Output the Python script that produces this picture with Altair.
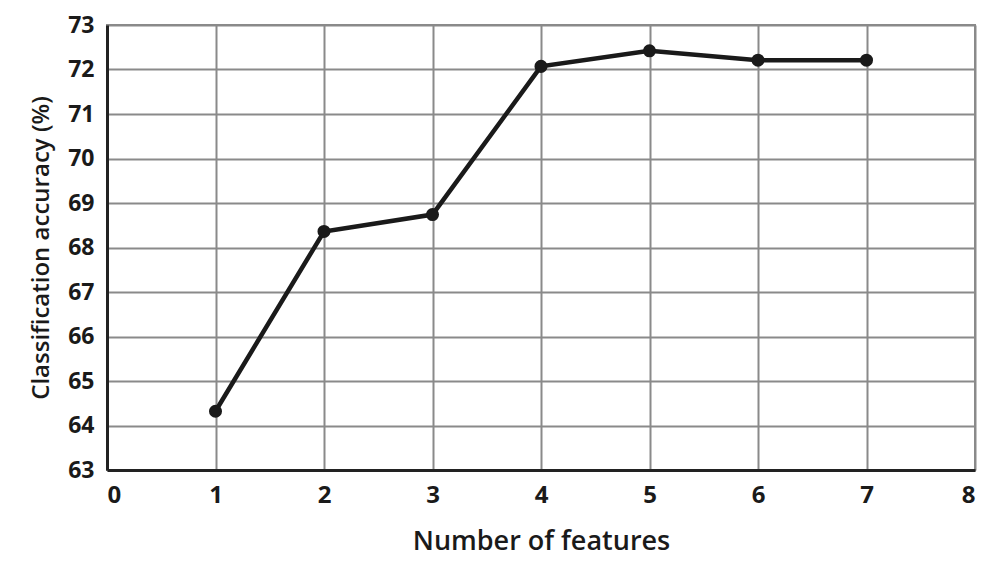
import altair as alt
import pandas as pd

features = [1, 2, 3, 4, 5, 6, 7]
accuracy = [64.32, 68.36, 68.74, 72.07, 72.42, 72.21, 72.21]

df = pd.DataFrame({"features": features, "accuracy": accuracy})

FONT = "Open Sans"

x = alt.X("features:Q", title="Number of features",
          scale=alt.Scale(domain=[0, 8], nice=False),
          axis=alt.Axis(values=list(range(0, 9)), labelFontSize=24, labelFontWeight="bold",
                        labelFont=FONT, labelColor="#1a1a1a", labelPadding=13,
                        titleFont=FONT, titleFontSize=27, titleFontWeight=600,
                        titleColor="#1a1a1a", titlePadding=21,
                        domainColor="#222", domainWidth=3, ticks=False,
                        gridColor="#8a8a8a", gridWidth=2))
y = alt.Y("accuracy:Q", title="Classification accuracy (%)",
          scale=alt.Scale(domain=[63, 73], nice=False, zero=False),
          axis=alt.Axis(values=list(range(63, 74)), labelFontSize=23, labelFontWeight="bold",
                        labelFont=FONT, labelColor="#1a1a1a", labelPadding=13,
                        titleFont=FONT, titleFontSize=24, titleFontWeight=600,
                        titleColor="#1a1a1a", titlePadding=14,
                        domainColor="#222", domainWidth=3, ticks=False,
                        gridColor="#8a8a8a", gridWidth=2))

line = alt.Chart(df).mark_line(color="#1a1a1a", strokeWidth=4.5).encode(x=x, y=y)
pts = alt.Chart(df).mark_point(filled=True, color="#1a1a1a", size=170, opacity=1).encode(x=x, y=y)

chart = (line + pts).properties(
    width=868, height=445,
    autosize=alt.AutoSizeParams(type="none"),
    padding={"left": 99, "top": 17, "right": 8, "bottom": 90},
    background="white",
).configure_view(stroke="#8a8a8a", strokeWidth=2)

chart.save("out.html", embed_options={"renderer": "svg", "actions": False})
